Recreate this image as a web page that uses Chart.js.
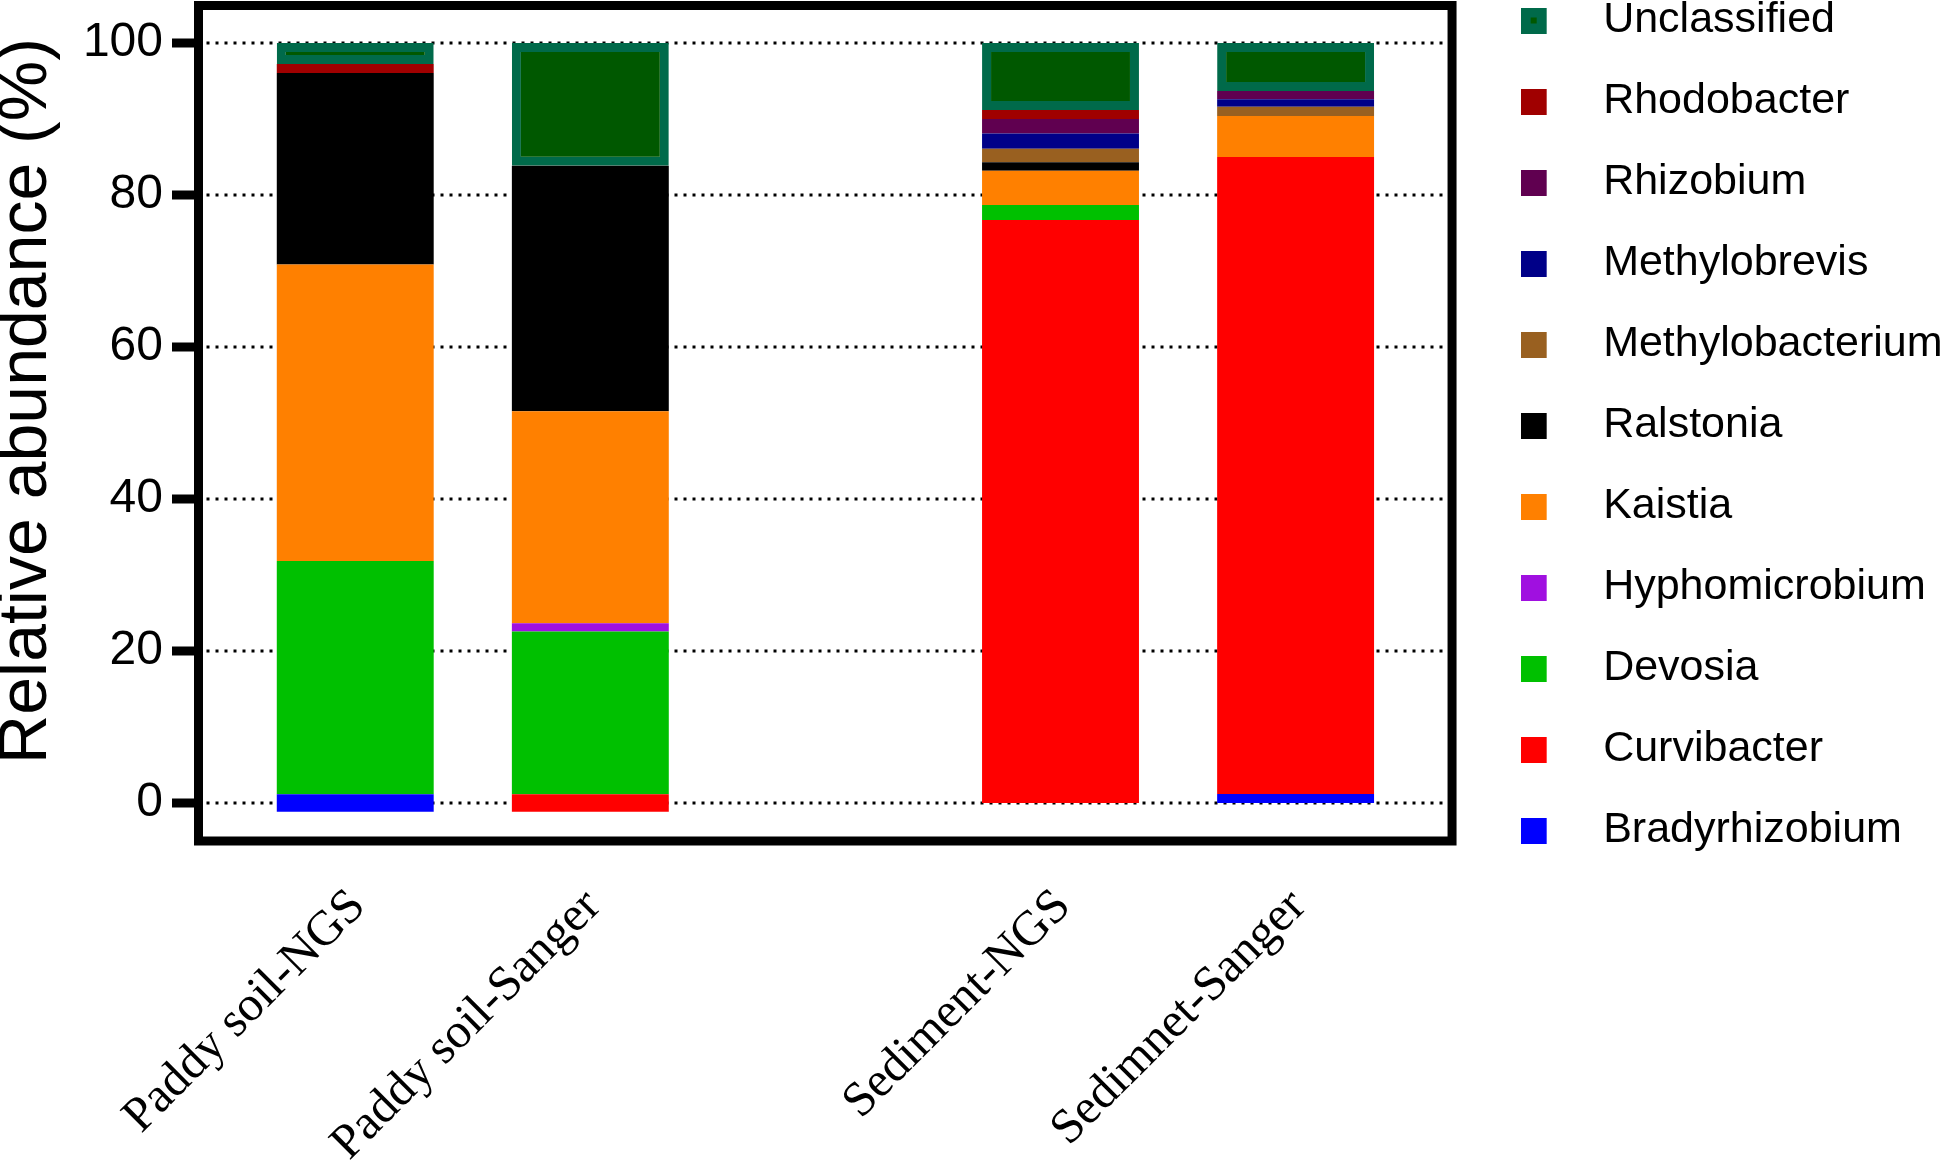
<!DOCTYPE html>
<html>
<head>
<meta charset="utf-8">
<script src="https://cdn.jsdelivr.net/npm/chart.js@4.4.1/dist/chart.umd.min.js"></script>
<style>
html,body{margin:0;padding:0;background:#fff;}
#c{display:block;}
</style>
</head>
<body>
<canvas id="c" width="1943" height="1170"></canvas>
<script>
// ---- data (relative abundance, %) ----
const categories = ['Paddy soil-NGS', 'Paddy soil-Sanger', '', 'Sediment-NGS', 'Sedimnet-Sanger'];
// bottom of each stacked bar (the two paddy bars start slightly below zero in the original)
const baseline         = [-1.15, -1.15, null, 0, 0];
const Bradyrhizobium   = [2.3,   0,    null, 0,    1.2];
const Curvibacter      = [0,     2.3,  null, 76.7, 83.8];
const Devosia          = [30.7,  21.4, null, 2.0,  0];
const Hyphomicrobium   = [0,     1.1,  null, 0,    0];
const Kaistia          = [39.0,  27.9, null, 4.5,  5.4];
const Ralstonia        = [25.2,  32.3, null, 1.1,  0];
const Methylobacterium = [0,     0,    null, 1.8,  1.2];
const Methylobrevis    = [0,     0,    null, 2.0,  1.0];
const Rhizobium        = [0,     0,    null, 1.9,  1.1];
const Rhodobacter      = [1.2,   0,    null, 1.2,  0];
const Unclassified     = [2.75,  16.15,null, 8.8,  6.3];
const yTicks = [0, 20, 40, 60, 80, 100];
const yTitle = 'Relative abundance (%)';

// stacking order, bottom to top
const seriesNames = ['Bradyrhizobium','Curvibacter','Devosia','Hyphomicrobium','Kaistia','Ralstonia',
                     'Methylobacterium','Methylobrevis','Rhizobium','Rhodobacter','Unclassified'];
const seriesValues = [Bradyrhizobium, Curvibacter, Devosia, Hyphomicrobium, Kaistia, Ralstonia,
                      Methylobacterium, Methylobrevis, Rhizobium, Rhodobacter, Unclassified];
const seriesColors = ['#0000ff','#ff0000','#00c000','#a010e0','#ff8000','#000000',
                      '#996020','#000088','#600050','#a00000','#005800'];
const unclassifiedBorder = '#006a4a';

function makeMarker(color, inner) {
  const c = document.createElement('canvas');
  c.width = 61; c.height = 26;
  const g = c.getContext('2d');
  g.fillStyle = color;
  g.fillRect(0, 0, 26, 26);
  if (inner) { g.fillStyle = inner; g.fillRect(10, 10, 6, 6); }
  return c;
}

const markers = seriesNames.map((n, s) =>
  n === 'Unclassified' ? makeMarker(unclassifiedBorder, seriesColors[s]) : makeMarker(seriesColors[s]));

const datasets = seriesNames.map((name, s) => {
  const data = categories.map((c, i) => {
    if (baseline[i] === null) return null;
    let start = baseline[i];
    for (let k = 0; k < s; k++) start += seriesValues[k][i];
    const v = seriesValues[s][i];
    return v > 0 ? [start, start + v] : null;
  });
  const isU = name === 'Unclassified';
  return {
    label: name,
    data,
    backgroundColor: seriesColors[s],
    borderColor: isU ? unclassifiedBorder : seriesColors[s],
    borderWidth: isU ? 9 : 0,
    borderSkipped: false,
    categoryPercentage: 1,
    barPercentage: 0.6675
  };
});

const framePlugin = {
  id: 'frame',
  beforeDraw(chart) {
    const lg = chart.legend, a = chart.chartArea;
    if (lg) {
      const w = lg.width;
      lg.left = a.right + 69.5;
      lg.right = lg.left + w;
      lg.top = a.top - 44;
    }
  },
  beforeDatasetsDraw(chart) {
    const {ctx, chartArea: a, scales: {y}} = chart;
    const L = a.left - 39.2, R = a.right + 38.9;
    ctx.save();
    ctx.strokeStyle = '#000';
    ctx.lineWidth = 3;
    ctx.setLineDash([3, 6]);
    yTicks.forEach(v => {
      const py = Math.round(y.getPixelForValue(v));
      ctx.beginPath();
      ctx.moveTo(L + 8, py);
      ctx.lineTo(R - 4.5, py);
      ctx.stroke();
    });
    ctx.restore();
  },
  afterDatasetsDraw(chart) {
    const {ctx, chartArea: a, scales: {y}} = chart;
    const L = a.left - 39.2, R = a.right + 38.9;
    ctx.save();
    ctx.strokeStyle = '#000';
    ctx.fillStyle = '#000';
    ctx.lineWidth = 9;
    ctx.strokeRect(L, a.top + 0.5, R - L, a.bottom - a.top - 0.5);
    yTicks.forEach(v => {
      const py = y.getPixelForValue(v);
      ctx.fillRect(L - 4.5 - 22, py - 4.5, 22, 9);
    });
    // y axis title, centred a little above the middle of the plot as in the original
    const cy = (y.getPixelForValue(0) + y.getPixelForValue(100)) / 2 - 22;
    ctx.translate(27, cy);
    ctx.rotate(-Math.PI / 2);
    ctx.font = '68px "Liberation Sans"';
    ctx.textAlign = 'center';
    ctx.textBaseline = 'middle';
    ctx.fillText(yTitle, 0, 0);
    ctx.restore();
  }
};

new Chart(document.getElementById('c'), {
  type: 'bar',
  data: { labels: categories, datasets },
  plugins: [framePlugin],
  options: {
    responsive: false,
    animation: false,
    devicePixelRatio: 1,
    layout: { padding: { top: 5, left: 0, right: 60, bottom: 0 } },
    scales: {
      x: {
        stacked: true,
        offset: true,
        grid: { display: false, drawTicks: false },
        border: { display: false },
        ticks: {
          autoSkip: false,
          minRotation: 45,
          maxRotation: 45,
          padding: 37,
          labelOffset: 3,
          color: '#000',
          font: { family: 'Liberation Serif', size: 49 }
        },
        afterFit: s => { s.height = 329; }
      },
      y: {
        min: -5,
        max: 105,
        grid: { display: false, drawTicks: false },
        border: { display: false },
        afterBuildTicks: s => { s.ticks = yTicks.map(v => ({ value: v })); },
        ticks: {
          padding: 74.7,
          color: '#000',
          font: { family: 'Liberation Sans', size: 48 }
        },
        title: { display: false },
        afterFit: s => { s.width = 237.7; s.paddingTop = 0; s.paddingBottom = 0; }
      }
    },
    plugins: {
      tooltip: { enabled: false },
      legend: {
        position: 'right',
        align: 'start',
        maxWidth: 470,
        labels: {
          usePointStyle: true,
          pointStyleWidth: 61,
          boxHeight: 26,
          padding: 38,
          color: '#000',
          font: { family: 'Liberation Sans', size: 43 },
          generateLabels: chart => chart.data.datasets.map((ds, i) => ({
            text: ds.label,
            fillStyle: ds.backgroundColor,
            strokeStyle: 'rgba(0,0,0,0)',
            lineWidth: 0,
            pointStyle: markers[i],
            datasetIndex: i,
            hidden: false
          })).reverse()
        }
      }
    }
  }
});
</script>
</body>
</html>
